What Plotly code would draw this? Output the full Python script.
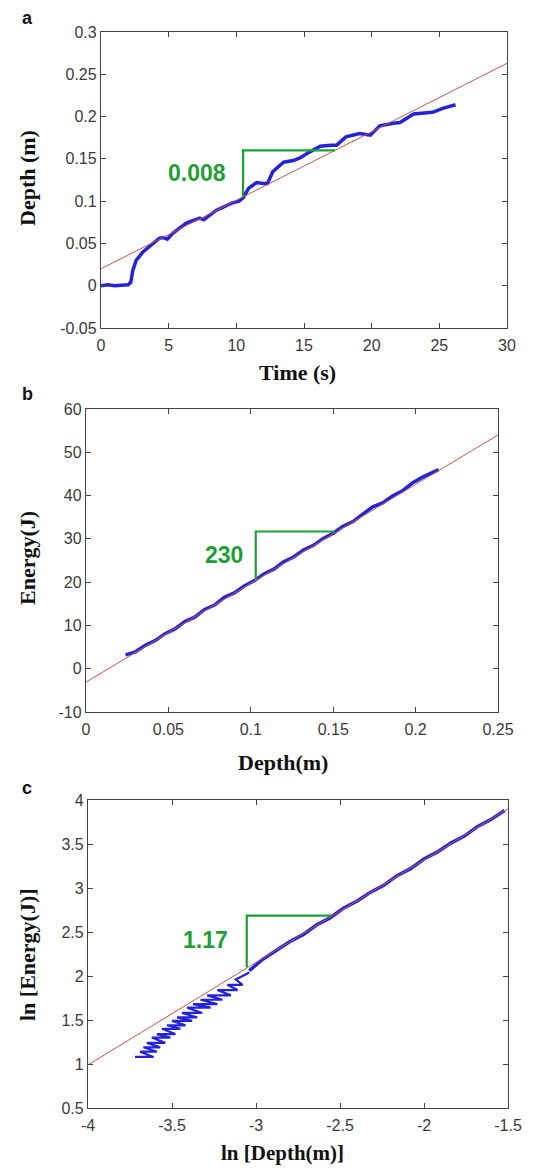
import plotly.graph_objects as go

# page has an 8px body margin, so the figure is sized to fit inside the window
W, H = 533, 1158
OFF = 8

# ---- panel a: depth vs time ----
a_time = [0, 0.5, 1.0, 1.5, 2.0, 2.2, 2.35, 2.6, 3.1, 3.7, 4.3, 4.6, 4.9, 5.3, 6.3, 7.3, 7.6,
          8.5, 9.7, 10.2, 10.5, 10.9, 11.5, 12.0, 12.3, 12.7, 13.5, 14.2, 14.7, 15.4, 16.2,
          17.0, 17.4, 18.1, 19.1, 19.9, 20.6, 21.6, 22.1, 23.1, 24.5, 25.3, 26.2]
a_depth = [0.000, 0.001, 0.000, 0.001, 0.001, 0.004, 0.018, 0.030, 0.040, 0.048, 0.056, 0.057,
           0.055, 0.062, 0.074, 0.080, 0.078, 0.089, 0.098, 0.100, 0.104, 0.115, 0.122, 0.121,
           0.121, 0.135, 0.146, 0.148, 0.151, 0.158, 0.165, 0.166, 0.166, 0.176, 0.180, 0.178,
           0.189, 0.192, 0.193, 0.203, 0.205, 0.210, 0.214]
a_fit_t = [0, 30]
a_fit_d = [0.020, 0.263]
a_tri_t = [10.5, 10.5, 17.3]
a_tri_d = [0.105, 0.160, 0.160]
a_xticks = [0, 5, 10, 15, 20, 25, 30]
a_yticks = [-0.05, 0, 0.05, 0.1, 0.15, 0.2, 0.25, 0.3]
a_yticktext = ["-0.05", "0", "0.05", "0.1", "0.15", "0.2", "0.25", "0.3"]

# ---- panel b: energy vs depth ----
b_depth = [0.024, 0.030, 0.036, 0.042, 0.048, 0.054, 0.060, 0.066, 0.072, 0.078, 0.084, 0.090,
           0.096, 0.102, 0.108, 0.114, 0.120, 0.126, 0.132, 0.138, 0.144, 0.150, 0.156, 0.162,
           0.168, 0.174, 0.180, 0.186, 0.192, 0.198, 0.204, 0.210, 0.214]
b_energy = [3.2, 3.9, 5.4, 6.5, 8.1, 9.2, 10.9, 11.9, 13.7, 14.7, 16.5, 17.5, 19.1, 20.3, 21.9,
            23.0, 24.7, 25.8, 27.4, 28.5, 30.1, 31.3, 32.9, 34.0, 35.7, 37.4, 38.3, 39.9, 41.1,
            42.9, 44.2, 45.3, 46.0]
b_fit_d = [0, 0.25]
b_fit_e = [-3.1, 54.0]
b_tri_d = [0.103, 0.103, 0.151]
b_tri_e = [20.5, 31.7, 31.7]
b_xticks = [0, 0.05, 0.1, 0.15, 0.2, 0.25]
b_xticktext = ["0", "0.05", "0.1", "0.15", "0.2", "0.25"]
b_yticks = [-10, 0, 10, 20, 30, 40, 50, 60]
b_yticktext = ["-10", "0", "10", "20", "30", "40", "50", "60"]

# ---- panel c: ln energy vs ln depth ----
# low end: short horizontal strokes (quantised energy)
c_low_x = [-3.72, -3.61, -3.69, -3.59, -3.67, -3.57, -3.65, -3.54, -3.62, -3.51, -3.59, -3.48,
           -3.56, -3.45, -3.53, -3.42, -3.50, -3.38, -3.47, -3.35, -3.44, -3.32, -3.41, -3.27,
           -3.375, -3.23, -3.33, -3.20, -3.29, -3.15, -3.23, -3.11, -3.17, -3.08, -3.12, -3.04]
c_low_y = [1.08, 1.08, 1.14, 1.14, 1.19, 1.19, 1.24, 1.24, 1.30, 1.30, 1.34, 1.34,
           1.40, 1.40, 1.44, 1.44, 1.49, 1.49, 1.53, 1.53, 1.58, 1.58, 1.64, 1.64,
           1.68, 1.68, 1.73, 1.73, 1.78, 1.78, 1.84, 1.84, 1.90, 1.90, 1.96, 2.04]
c_x = [-3.04, -2.96, -2.88, -2.80, -2.72, -2.64, -2.56, -2.48, -2.40, -2.32, -2.24, -2.16,
       -2.08, -2.00, -1.92, -1.84, -1.76, -1.68, -1.60, -1.52]
c_y = [2.06, 2.19, 2.29, 2.39, 2.47, 2.58, 2.66, 2.77, 2.85, 2.95, 3.03, 3.14,
       3.22, 3.33, 3.41, 3.51, 3.59, 3.70, 3.78, 3.88]
c_fit_x = [-4, -1.5]
c_fit_y = [0.99, 3.90]
c_tri_x = [-3.055, -3.055, -2.55]
c_tri_y = [2.10, 2.685, 2.685]
c_xticks = [-4, -3.5, -3, -2.5, -2, -1.5]
c_xticktext = ["-4", "-3.5", "-3", "-2.5", "-2", "-1.5"]
c_yticks = [0.5, 1, 1.5, 2, 2.5, 3, 3.5, 4]
c_yticktext = ["0.5", "1", "1.5", "2", "2.5", "3", "3.5", "4"]

BLUE = "#2424d6"
RED = "#c9554c"
GREEN = "#1f9e35"
AXC = "#444444"
TICKFONT = dict(family="Liberation Sans, Arial", size=16, color="#3a3a3a")
TITLEFONT = dict(family="Liberation Serif, Times New Roman", size=22, color="#111111")


# pixel positions measured on the 549x1174 window -> paper fractions
def fx(p):
    return (p - OFF) / W


def fy(p):
    return 1 - (p - OFF) / H


fig = go.Figure()

panels = [
    ("x", "y", a_time, a_depth, a_fit_t, a_fit_d, a_tri_t, a_tri_d),
    ("x2", "y2", b_depth, b_energy, b_fit_d, b_fit_e, b_tri_d, b_tri_e),
    ("x3", "y3", c_x, c_y, c_fit_x, c_fit_y, c_tri_x, c_tri_y),
]
for xa, ya, xs, ys, fxs, fys, txs, tys in panels:
    fig.add_trace(go.Scatter(x=xs, y=ys, mode="lines", xaxis=xa, yaxis=ya,
                             line=dict(color=BLUE, width=3.5), showlegend=False))
    if xa == "x3":
        fig.add_trace(go.Scatter(x=c_low_x, y=c_low_y, mode="lines", xaxis=xa, yaxis=ya,
                                 line=dict(color=BLUE, width=2.2), showlegend=False))
    fig.add_trace(go.Scatter(x=fxs, y=fys, mode="lines", xaxis=xa, yaxis=ya,
                             line=dict(color=RED, width=1), showlegend=False))
    fig.add_trace(go.Scatter(x=txs, y=tys, mode="lines", xaxis=xa, yaxis=ya,
                             line=dict(color=GREEN, width=2.2), showlegend=False))

axis_style = dict(showline=True, linecolor=AXC, linewidth=1.3, mirror="ticks",
                  ticks="inside", ticklen=5, tickcolor=AXC, showgrid=False,
                  zeroline=False, tickfont=TICKFONT, tickmode="array", automargin=False)
xstyle = dict(axis_style, ticklabelstandoff=3)

fig.update_layout(
    width=W, height=H,
    margin=dict(l=0, r=0, t=0, b=0, autoexpand=False),
    paper_bgcolor="white", plot_bgcolor="white",
    xaxis=dict(xstyle, domain=[fx(101), fx(507)], range=[0, 30], tickvals=a_xticks,
               anchor="y"),
    yaxis=dict(axis_style, domain=[fy(328), fy(32)], range=[-0.05, 0.3], tickvals=a_yticks,
               ticktext=a_yticktext, anchor="x"),
    xaxis2=dict(xstyle, domain=[fx(86), fx(498)], range=[0, 0.25], tickvals=b_xticks,
                ticktext=b_xticktext, anchor="y2"),
    yaxis2=dict(axis_style, domain=[fy(712), fy(409)], range=[-10, 60], tickvals=b_yticks,
                ticktext=b_yticktext, anchor="x2"),
    xaxis3=dict(xstyle, domain=[fx(88), fx(508)], range=[-4, -1.5], tickvals=c_xticks,
                ticktext=c_xticktext, anchor="y3"),
    yaxis3=dict(axis_style, domain=[fy(1108), fy(800)], range=[0.5, 4], tickvals=c_yticks,
                ticktext=c_yticktext, anchor="x3"),
)

# axis titles
texts = [
    ("<b>Time (s)</b>", 297, 373, 0, 22),
    ("<b>Depth (m)</b>", 27, 178, -90, 22),
    ("<b>Depth(m)</b>", 283, 763, 0, 22),
    ("<b>Energy(J)</b>", 27, 558, -90, 22),
    ("<b>ln [Depth(m)]</b>", 282, 1153, 0, 21),
    ("<b>ln [Energy(J)]</b>", 27, 955, -90, 22),
]
for txt, px, py, ang, sz in texts:
    fig.add_annotation(x=fx(px), y=fy(py), xref="paper", yref="paper", text=txt,
                       showarrow=False, textangle=ang, font=dict(TITLEFONT, size=sz),
                       xanchor="center", yanchor="middle")

# panel letters
for letter, py in [("a", 18), ("b", 394), ("c", 788)]:
    fig.add_annotation(x=fx(27), y=fy(py), xref="paper", yref="paper",
                       text=f"<b>{letter}</b>", showarrow=False,
                       font=dict(family="Liberation Sans, Arial", size=18, color="#111"),
                       xanchor="center", yanchor="middle")

# slope labels
slopes = [("0.008", "x", "y", 9.4, 0.133), ("230", "x2", "y2", 0.0965, 26.3),
          ("1.17", "x3", "y3", -3.155, 2.41)]
for txt, xr, yr, xv, yv in slopes:
    fig.add_annotation(x=xv, y=yv, xref=xr, yref=yr, text=f"<b>{txt}</b>",
                       showarrow=False, xanchor="right", yanchor="middle",
                       font=dict(family="Liberation Sans, Arial", size=23, color=GREEN))

fig.write_html("out.html")
